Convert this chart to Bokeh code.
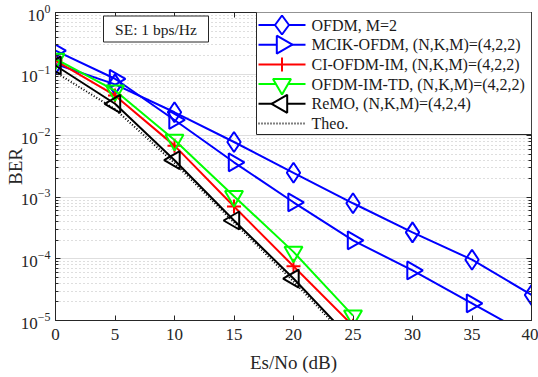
import numpy as np
from bokeh.plotting import figure
from bokeh.models import (FixedTicker, LinearAxis, LogAxis, Label, Range1d, BoxAnnotation,
                          PolyAnnotation, Arrow, CustomJSTickFormatter)
from bokeh.embed import file_html
from bokeh.resources import INLINE

# ---- data ----
snr = [0, 5, 10, 15, 20, 25, 30, 35, 40]
ofdm_m2 = [0.146, 0.068, 0.024, 0.0079, 0.0025, 8.0e-4, 2.7e-4, 9.7e-5, 2.6e-5]
mcik = [0.24, 0.084, 0.018, 0.0037, 8.3e-4, 2.0e-4, 6.5e-5, 1.9e-5, 5.5e-6]
snr_short = [0, 5, 10, 15, 20, 25]
ci_ofdm_im = [0.166, 0.045, 0.0069, 7.1e-4, 7.6e-5, 8.2e-6]
ofdm_im_td = [0.177, 0.054, 0.0085, 1.04e-3, 1.3e-4, 1.2e-5]
remo = [0.138, 0.033, 0.004, 4.2e-4, 4.8e-5, 4.6e-6]
theo = [0.107, 0.027, 0.0036, 3.9e-4, 4.3e-5, 4.2e-6]

x_ticks = [0, 5, 10, 15, 20, 25, 30, 35, 40]
y_ticks = [1e-5, 1e-4, 1e-3, 1e-2, 1e-1, 1e0]
y_minor = [m * 10.0 ** d for d in range(-5, 0) for m in range(2, 10)]

labels = ["OFDM, M=2", "MCIK-OFDM, (N,K,M)=(4,2,2)", "CI-OFDM-IM, (N,K,M)=(4,2,2)",
          "OFDM-IM-TD, (N,K,M)=(4,2,2)", "ReMO, (N,K,M)=(4,2,4)", "Theo."]

FONT = "Liberation Serif"
AX = "#262626"
TXT = "#1a1a1a"
BLUE = "#0000ff"
RED = "#ff0000"
GREEN = "#00ff00"
BLACK = "#000000"

MB_TOP, MB_BOTTOM = 12, 57
FH = 377 - MB_TOP - MB_BOTTOM      # frame height in px

p = figure(width=538, height=377, y_axis_type="log", output_backend="svg",
           toolbar_location=None, x_axis_type=None,
           x_range=Range1d(0, 40), y_range=Range1d(1e-5, 1),
           min_border_left=55, min_border_right=7, min_border_top=MB_TOP,
           min_border_bottom=MB_BOTTOM)
p.background_fill_color = "white"
p.border_fill_color = "white"
p.outline_line_color = AX
p.outline_line_width = 1

# axes
xb = LinearAxis(ticker=FixedTicker(ticks=x_ticks, minor_ticks=[]))
p.add_layout(xb, "below")
xt = LinearAxis(ticker=FixedTicker(ticks=x_ticks, minor_ticks=[]),
                formatter=CustomJSTickFormatter(code="return ''"))
p.add_layout(xt, "above")
yl = p.yaxis[0]
yl.ticker = FixedTicker(ticks=y_ticks, minor_ticks=y_minor)
yr = LogAxis(ticker=FixedTicker(ticks=y_ticks, minor_ticks=y_minor),
             formatter=CustomJSTickFormatter(code="return ''"))
p.add_layout(yr, "right")

for ax in [xb, xt, yl, yr]:
    ax.major_tick_in = 5
    ax.major_tick_out = 0
    ax.minor_tick_in = 3
    ax.minor_tick_out = 0
    ax.axis_line_color = AX
    ax.major_tick_line_color = AX
    ax.minor_tick_line_color = AX
    ax.major_label_text_font = FONT
    ax.major_label_text_font_size = "17px"
    ax.major_label_text_color = "#262626"
    ax.axis_label_text_font = FONT
    ax.axis_label_text_font_style = "normal"
    ax.axis_label_text_font_size = "19px"
    ax.axis_label_text_color = "#262626"
for ax in [xt, yr]:
    ax.major_label_standoff = 0
    ax.major_label_text_font_size = "1px"

xb.axis_label = "Es/No (dB)"
xb.major_label_standoff = 8
xb.axis_label_standoff = 9
yl.axis_label = "BER"
yl.major_label_standoff = 5
yl.axis_label_standoff = -8

# grids
p.xgrid.ticker = xb.ticker
p.xgrid.grid_line_color = "#dedede"
p.xgrid.grid_line_width = 1
p.ygrid.grid_line_color = "#dedede"
p.ygrid.grid_line_width = 1
p.ygrid.minor_grid_line_color = "#bdbdbd"
p.ygrid.minor_grid_line_dash = "1 3"
p.ygrid.minor_grid_line_width = 1

# series
p.line(snr, ofdm_m2, line_color=BLUE, line_width=2)
p.scatter(snr, ofdm_m2, marker="diamond", size=20, line_color=BLUE, line_width=2, fill_color=None)
p.line(snr, mcik, line_color=BLUE, line_width=2)
p.scatter(snr, mcik, marker="triangle", angle=-np.pi / 2, size=18, line_color=BLUE, line_width=2, fill_color=None)
p.line(snr_short, ci_ofdm_im, line_color=RED, line_width=2)
p.scatter(snr_short, ci_ofdm_im, marker="cross", size=14, line_color=RED, line_width=2)
p.line(snr_short, ofdm_im_td, line_color=GREEN, line_width=2)
p.scatter(snr_short, ofdm_im_td, marker="inverted_triangle", size=18, line_color=GREEN, line_width=2, fill_color=None)
p.line(snr_short, remo, line_color=BLACK, line_width=2)
p.scatter(snr_short, remo, marker="triangle", angle=np.pi / 2, size=18, line_color=BLACK, line_width=2, fill_color=None)
p.line(snr_short, theo, line_color=BLACK, line_width=2, line_dash="1 2")

# ---- "SE" annotation box (screen units, relative to the frame, y upward) ----
p.add_layout(BoxAnnotation(left=48, right=153, top=FH - 3.5, bottom=FH - 29.5,
                           left_units="screen", right_units="screen", top_units="screen",
                           bottom_units="screen", fill_color="white", fill_alpha=1,
                           line_color=AX, line_width=1, line_alpha=1))
p.add_layout(Label(x=100.5, y=FH - 16.5, x_units="screen", y_units="screen",
                   text="SE: 1 bps/Hz", text_font=FONT, text_font_size="15.5px",
                   text_align="center", text_baseline="middle", text_color=TXT))

# ---- legend, drawn by hand (screen units, relative to the frame, y upward) ----
LEG_L, LEG_R = 201, 476
LEG_T, LEG_B = FH + 1, FH - 122
ROW0, ROWSTEP = FH - 12.5, 19.7
GX0, GX1 = 203, 250
GXC = (GX0 + GX1) / 2
TX = 256

p.add_layout(BoxAnnotation(left=LEG_L, right=LEG_R, top=LEG_T, bottom=LEG_B,
                           left_units="screen", right_units="screen", top_units="screen",
                           bottom_units="screen", fill_color="white", fill_alpha=1,
                           line_color=AX, line_width=1, line_alpha=1))

colors = [BLUE, BLUE, RED, GREEN, BLACK, BLACK]
shapes = ["diamond", "right", "cross", "down", "left", None]


def shape_pts(kind, cx, cy):
    r = 9.0
    a = r * np.sqrt(3) / 3
    if kind == "diamond":
        return [cx, cx + 7, cx, cx - 7], [cy + 9.5, cy, cy - 9.5, cy]
    if kind == "right":
        return [cx + 2 * a, cx - a, cx - a], [cy, cy + r, cy - r]
    if kind == "left":
        return [cx - 2 * a, cx + a, cx + a], [cy, cy + r, cy - r]
    if kind == "down":
        return [cx - r, cx + r, cx], [cy + a, cy + a, cy - 2 * a]
    return None


for i, lab in enumerate(labels):
    cy = ROW0 - i * ROWSTEP
    p.add_layout(Arrow(x_start=GX0, y_start=cy, x_end=GX1, y_end=cy,
                       start_units="screen", end_units="screen", end=None, start=None,
                       line_color=colors[i], line_width=2,
                       line_dash="1 2" if shapes[i] is None else "solid"))
    if shapes[i] == "cross":
        p.add_layout(Arrow(x_start=GXC, y_start=cy - 7, x_end=GXC, y_end=cy + 7,
                           start_units="screen", end_units="screen", end=None, start=None,
                           line_color=colors[i], line_width=2))
    elif shapes[i] is not None:
        xs, ys = shape_pts(shapes[i], GXC, cy)
        p.add_layout(PolyAnnotation(xs=xs, ys=ys, xs_units="screen", ys_units="screen",
                                    fill_color="white", fill_alpha=1,
                                    line_color=colors[i], line_width=2, line_alpha=1))
    p.add_layout(Label(x=TX, y=cy, x_units="screen", y_units="screen", text=lab,
                       text_font=FONT, text_font_size="16px", text_color=TXT,
                       text_align="left", text_baseline="middle"))

open("out.html", "w").write(file_html(p, INLINE))
